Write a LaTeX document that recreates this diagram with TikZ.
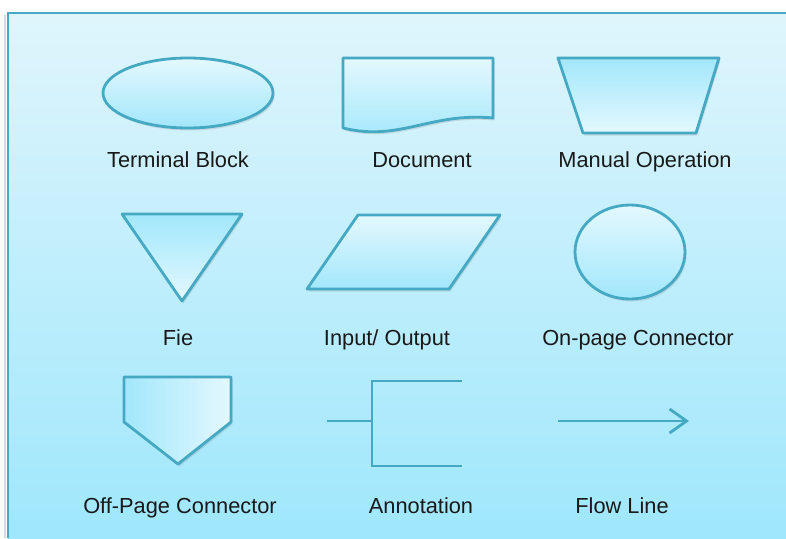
\documentclass[tikz,border=0pt]{standalone}
\usepackage{fontspec}
\setmainfont{Liberation Sans}
\usetikzlibrary{shapes.geometric,arrows.meta,shadows}
\definecolor{edgeblue}{HTML}{45A9C4}
\definecolor{lightfill}{HTML}{E4F8FE}
\definecolor{deepfill}{HTML}{A2E7FB}
\definecolor{bgtop}{HTML}{DFF5FC}
\definecolor{bgbottom}{HTML}{9FE7FC}
\tikzset{
  symb/.style={draw=edgeblue, line width=2.8pt, line join=round,
    drop shadow={shadow xshift=1.5pt, shadow yshift=-2.5pt, opacity=0.22}},
  wire/.style={draw=edgeblue, line width=2.8pt},
  lbl/.style={font=\fontsize{21.8}{26}\selectfont, text=black!90, inner sep=0pt, anchor=base}
}
\begin{document}
\begin{tikzpicture}[x=1pt,y=-1pt]
		\useasboundingbox (0,0) rectangle (786,538);
		\fill[white] (0,0) rectangle (786,538);

		%panel
		\shade[top color=bgtop, bottom color=bgbottom] (8,13) rectangle (786,538);
		\draw[black!15, line width=2pt] (5,15) -- (5,538);
		\draw[edgeblue, line width=2.8pt] (786,13) -- (8,13) -- (8,538);

		%row 1
		\path[symb, top color=lightfill, bottom color=deepfill] (188,93) ellipse [x radius=85, y radius=35];
		\path[symb, top color=lightfill, bottom color=deepfill]
			(343,58) -- (493,58) -- (493,118) .. controls (430,112) and (400,142) .. (343,128) -- cycle;
		\path[symb, top color=deepfill, bottom color=lightfill]
			(558,58) -- (719,58) -- (696,133) -- (583,133) -- cycle;

		\node[lbl] (terminal) at (178,167) {Terminal Block};
		\node[lbl] (document) at (422,167) {Document};
		\node[lbl] (manual) at (645,167) {Manual Operation};

		%row 2
		\path[symb, top color=deepfill, bottom color=lightfill]
			(122,214) -- (242,214) -- (182,301) -- cycle;
		\path[symb, top color=lightfill, bottom color=deepfill]
			(358,215) -- (500,215) -- (449,289) -- (307,289) -- cycle;
		\path[symb, top color=lightfill, bottom color=deepfill] (630,252) ellipse [x radius=55, y radius=47];

		\node[lbl] (file) at (178,345) {Fie};
		\node[lbl] (inout) at (387,345) {Input/ Output};
		\node[lbl] (onpage) at (638,345) {On-page Connector};

		%row 3
		\path[symb, left color=deepfill, right color=lightfill]
			(124,377) -- (231,377) -- (231,422) -- (178,464) -- (124,422) -- cycle;

		\coordinate (annstub) at (327,421);
		\coordinate (annjoin) at (372,421);
		\coordinate (anntop) at (462,381);
		\coordinate (annbot) at (462,466);
		\draw[wire] (annstub) -- (annjoin);
		\draw[wire] (anntop) -| (annjoin) |- (annbot);

		\coordinate (flowstart) at (558,421);
		\coordinate (flowend) at (689,421);
		\draw[wire, -{Straight Barb[length=17pt, width=24pt, line width=2.8pt]}] (flowstart) -- (flowend);

		\node[lbl] (offpage) at (180,513) {Off-Page Connector};
		\node[lbl] (annot) at (421,513) {Annotation};
		\node[lbl] (flow) at (622,513) {Flow Line};

	\end{tikzpicture}
\end{document}
